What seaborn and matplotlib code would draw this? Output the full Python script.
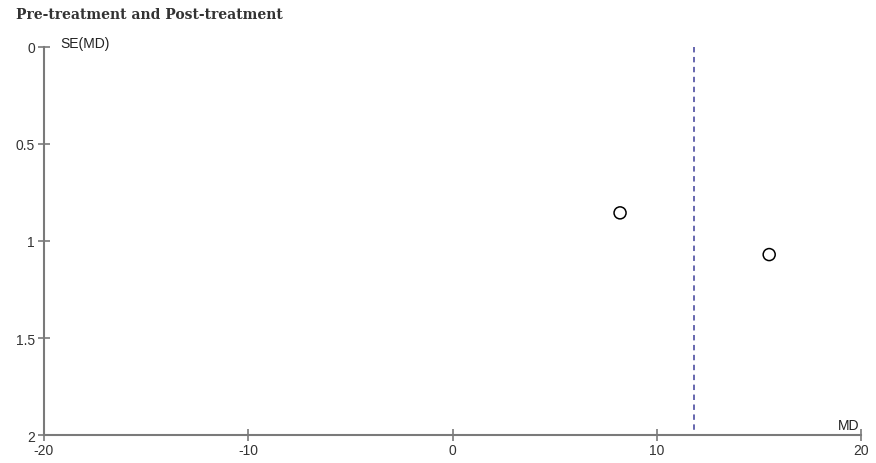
import matplotlib
matplotlib.use("Agg")
import matplotlib.pyplot as plt
import pandas as pd
import seaborn as sns

# study estimates
md_values = [8.2, 15.5]
se_values = [0.855, 1.07]
pooled_md = 11.8

x_ticks = [-20, -10, 0, 10, 20]
y_ticks = [0, 0.5, 1, 1.5, 2]
y_tick_labels = ["0", "0.5", "1", "1.5", "2"]

df = pd.DataFrame({"MD": md_values, "SE": se_values})

sns.set_style("white")
plt.rcParams["font.family"] = ["Liberation Sans", "DejaVu Sans"]

fig = plt.figure(figsize=(8.76, 4.64), dpi=100)
ax = fig.add_axes([0.0502, 0.0603, 0.9328, 0.8363])

sns.scatterplot(
    data=df,
    x="MD",
    y="SE",
    ax=ax,
    marker="o",
    s=75,
    facecolor="none",
    edgecolor="black",
    linewidth=1.1,
    zorder=3,
)
ax.plot([pooled_md, pooled_md], [0, 1.98], color="#5b5ba8", linestyle=(0, (3, 2.5)),
        linewidth=1.3)

ax.set_xlim(-20, 20)
ax.set_ylim(2, 0)
ax.set_xticks(x_ticks)
ax.set_xticklabels([str(t) for t in x_ticks])
ax.set_yticks(y_ticks)
ax.set_yticklabels(y_tick_labels)
ax.set_xlabel("")
ax.set_ylabel("")

for side in ["top", "right"]:
    ax.spines[side].set_visible(False)
for side in ["left", "bottom"]:
    ax.spines[side].set_color("#7a7a7a")
    ax.spines[side].set_linewidth(1.5)

ax.tick_params(axis="both", direction="inout", length=9, width=1.2, color="#7a7a7a",
               labelsize=10, labelcolor="#333333", pad=1, bottom=True, left=True)
ax.tick_params(axis="y", pad=2)

ax.text(-19.2, -0.02, "SE(MD)", ha="left", va="center", fontsize=10, color="#222222")
ax.text(19.9, 1.985, "MD", ha="right", va="bottom", fontsize=10, color="#222222")

fig.text(0.018, 0.968, "Pre-treatment and Post-treatment", ha="left", va="center",
         fontsize=10, fontweight="bold", color="#333333",
         family=["DejaVu Serif", "Liberation Serif"])

fig.savefig("out.png", dpi=100)
plt.close(fig)
